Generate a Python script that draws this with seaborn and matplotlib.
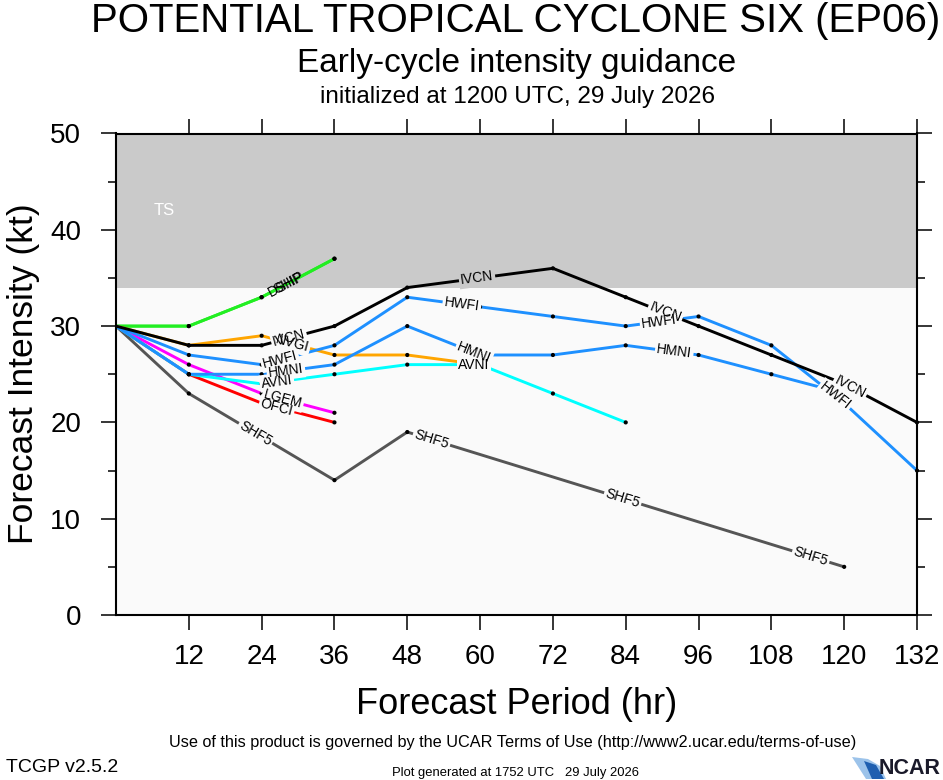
import matplotlib
matplotlib.use("Agg")
import matplotlib.pyplot as plt
import seaborn as sns
import numpy as np
import pandas as pd

nan = np.nan
hours = [0, 12, 24, 36, 48, 60, 72, 84, 96, 108, 120, 132]

# intensity guidance (kt), NaN where a model has no value
ofci = [30, 25, 22, 20, nan, nan, nan, nan, nan, nan, nan, nan]
lgem = [30, 26, 23, 21, nan, nan, nan, nan, nan, nan, nan, nan]
avni = [30, 25, 24, 25, 26, 26, 23, 20, nan, nan, nan, nan]
hmni = [30, 25, 25, 26, 30, 27, 27, 28, 27, 25, 23, nan]
hwfi = [30, 27, 26, 28, 33, 32, 31, 30, 31, 28, 22, 15]
ivcn = [30, 28, 28, 30, 34, 35, 36, 33, 30, 27, 24, 20]
nvgi = [30, 28, 29, 27, 27, 26, nan, nan, nan, nan, nan, nan]
dshp = [30, 30, 33, 37, nan, nan, nan, nan, nan, nan, nan, nan]
ship = [30, 30, 33, 37, nan, nan, nan, nan, nan, nan, nan, nan]
shf5 = [30, 23, nan, 14, 19, nan, nan, nan, nan, nan, 5, nan]

models = ["SHF5", "DSHP", "SHIP", "OFCI", "LGEM", "AVNI", "NVGI",
          "HMNI", "HWFI", "IVCN"]
series = [shf5, dshp, ship, ofci, lgem, avni, nvgi, hmni, hwfi, ivcn]
colors = {"SHF5": "#555555", "DSHP": "#22ee22", "SHIP": "#22ee22",
          "OFCI": "#ff0000", "LGEM": "#ff00ff", "AVNI": "#00ffff",
          "NVGI": "#ffa500", "HMNI": "#1e90ff", "HWFI": "#1e90ff",
          "IVCN": "#000000"}
# where along each line the model name is written (forecast hour)
label_hours = {"SHF5": [23, 52, 83.5, 114.5], "DSHP": [28], "SHIP": [28.5],
               "OFCI": [26.5], "LGEM": [27.5], "AVNI": [26.5, 59],
               "NVGI": [29], "HMNI": [28, 59, 92], "HWFI": [27, 57, 89.5, 118.5],
               "IVCN": [28.5, 59.5, 90.5, 121]}

rows = []
for name, vals in zip(models, series):
    for h, v in zip(hours, vals):
        if not np.isnan(v):
            rows.append({"model": name, "hour": h, "kt": v})
df = pd.DataFrame(rows)

sns.set_style("ticks")
plt.rcParams["font.family"] = ["Liberation Sans", "DejaVu Sans"]
plt.rcParams["text.color"] = "black"

fig = plt.figure(figsize=(9.43, 7.8), dpi=100)
ax = fig.add_axes([116 / 943, 1 - 615 / 780, 801 / 943, 481.5 / 780])
ax.set_xlim(0, 132)
ax.set_ylim(0, 50)
ax.set_facecolor("#fafafa")
ax.axhspan(34, 50, color="#cacaca", lw=0, zorder=0)
ax.text(8, 42, "TS", color="white", fontsize=12, ha="center", va="center")

sns.lineplot(data=df, x="hour", y="kt", hue="model", hue_order=models,
             palette=colors, estimator=None, sort=False, legend=False,
             linewidth=2.1, ax=ax, zorder=2)
sns.scatterplot(data=df[df.hour > 0], x="hour", y="kt", color="black",
                s=9, edgecolor="none", ax=ax, zorder=2.5, clip_on=False)

# model names along the lines, with a gap cut into the line underneath
for name, vals in zip(models, series):
    v = np.array(vals, dtype=float)
    ok = ~np.isnan(v)
    xs, ys = np.array(hours)[ok], v[ok]
    for h in label_hours[name]:
        y = np.interp(h, xs, ys)
        p0 = ax.transData.transform((h - 0.5, np.interp(h - 0.5, xs, ys)))
        p1 = ax.transData.transform((h + 0.5, np.interp(h + 0.5, xs, ys)))
        ang = np.degrees(np.arctan2(p1[1] - p0[1], p1[0] - p0[0]))
        if not (33.8 <= y < 34.8):
            bg = "#cacaca" if y > 34 else "#fafafa"
            ax.text(h, y, name, fontsize=10, color="none", rotation=ang,
                    rotation_mode="anchor", ha="center", va="center", zorder=3,
                    bbox=dict(boxstyle="square,pad=0.12", fc=bg, ec="none"))
        ax.text(h, y, name, fontsize=10, color="black", rotation=ang,
                rotation_mode="anchor", ha="center", va="center", zorder=4)

ax.set_xticks(range(12, 133, 12))
ax.set_yticks(range(0, 51, 10))
ax.set_yticks(range(5, 50, 10), minor=True)
ax.tick_params(axis="both", which="major", direction="out", length=11,
               width=1.1, labelsize=20, colors="black", pad=10)
ax.tick_params(axis="x", top=True, labeltop=False)
ax.tick_params(axis="y", right=True, labelright=False, pad=14)
ax.tick_params(axis="y", which="minor", direction="out", length=6,
               width=1.1, left=True, right=True, colors="black")
for s in ax.spines.values():
    s.set_visible(True)
    s.set_linewidth(1.5)
    s.set_color("black")
ax.set_xlabel("")
ax.set_ylabel("")

fig.text(516 / 943, 1 - 31.5 / 780, "POTENTIAL TROPICAL CYCLONE SIX (EP06)",
         fontsize=29, ha="center", va="baseline")
fig.text(517 / 943, 1 - 72 / 780, "Early-cycle intensity guidance",
         fontsize=24, ha="center", va="baseline")
fig.text(517 / 943, 1 - 103 / 780, "initialized at 1200 UTC, 29 July 2026",
         fontsize=17.5, ha="center", va="baseline")
fig.text(517 / 943, 1 - 714 / 780, "Forecast Period (hr)",
         fontsize=26, ha="center", va="baseline")
fig.text(24 / 943, 1 - 374 / 780, "Forecast Intensity (kt)",
         fontsize=25.5, ha="center", va="center", rotation=90)
fig.text(513 / 943, 1 - 747 / 780,
         "Use of this product is governed by the UCAR Terms of Use "
         "(http://www2.ucar.edu/terms-of-use)",
         fontsize=11.7, ha="center", va="baseline")
fig.text(6 / 943, 1 - 772 / 780, "TCGP v2.5.2", fontsize=14,
         ha="left", va="baseline")
fig.text(515 / 943, 1 - 776 / 780, "Plot generated at 1752 UTC   29 July 2026",
         fontsize=9.4, ha="center", va="baseline")

# NCAR logo: blue swoosh and lettering
fig.patches.append(plt.Polygon(
    [[852 / 943, 1 - 757 / 780], [868 / 943, 1 - 759 / 780],
     [880 / 943, 1 - 766 / 780], [886 / 943, 1 - 779 / 780],
     [866 / 943, 1 - 779 / 780]],
    closed=True, transform=fig.transFigure, fc="#9cc3ea", ec="none"))
fig.patches.append(plt.Polygon(
    [[864 / 943, 1 - 761 / 780], [876 / 943, 1 - 765 / 780],
     [884 / 943, 1 - 779 / 780], [872 / 943, 1 - 779 / 780]],
    closed=True, transform=fig.transFigure, fc="#1f5fb0", ec="none"))
fig.text(940 / 943, 1 - 779 / 780, "NCAR", fontsize=15.5, fontweight="bold",
         color="#1a1a2a", ha="right", va="bottom")

fig.savefig("out.png", dpi=100)
plt.close(fig)
